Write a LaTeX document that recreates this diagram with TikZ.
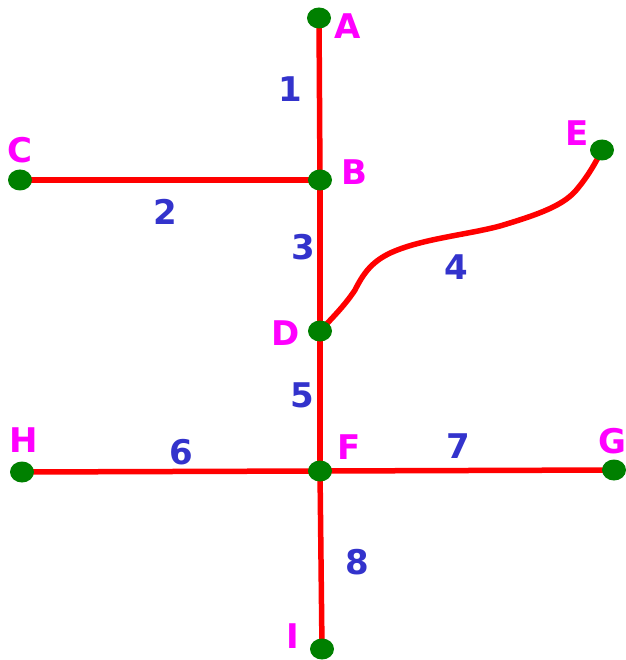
\documentclass[tikz,border=0pt]{standalone}
\usepackage{fontspec}
\setmainfont{DejaVu Sans}
\usetikzlibrary{backgrounds,shapes.geometric}
\definecolor{dotgreen}{RGB}{0,128,0}
\definecolor{lblue}{RGB}{51,51,204}
\definecolor{lmag}{RGB}{255,0,255}
\begin{document}
\begin{tikzpicture}[x=1pt,y=-1pt,
  dot/.style={ellipse, fill=dotgreen, minimum width=24pt, minimum height=21pt, inner sep=0pt},
  vlabel/.style={text=lmag, font=\fontsize{34}{34}\selectfont\bfseries, inner sep=0pt},
  elabel/.style={text=lblue, font=\fontsize{34}{34}\selectfont\bfseries, inner sep=0pt},
  edge/.style={draw=red, line width=5.5pt}]
\useasboundingbox (0,0) rectangle (625,660);
\node[dot] (A) at (319,18) {};
\node[dot] (B) at (320,180) {};
\node[dot] (C) at (20,180) {};
\node[dot] (D) at (320,331) {};
\node[dot] (E) at (602,150) {};
\node[dot] (F) at (320,471) {};
\node[dot] (H) at (22,472) {};
\node[dot] (G) at (614,470) {};
\node[dot] (I) at (322,649) {};
\begin{scope}[on background layer]
\draw[edge] (A.center) -- (B.center);
\draw[edge] (C.center) -- (B.center);
\draw[edge] (B.center) -- (D.center);
\draw[edge] (D.center) .. controls (335,315) and (345,305) .. (355,290)
  .. controls (365,270) and (375,258) .. (400,249)
  .. controls (430,238) and (470,234) .. (500,226)
  .. controls (540,214) and (565,205) .. (578,188)
  .. controls (588,176) and (596,162) .. (E.center);
\draw[edge] (D.center) -- (F.center);
\draw[edge] (H.center) -- (F.center);
\draw[edge] (F.center) -- (G.center);
\draw[edge] (F.center) -- (I.center);
\end{scope}
\node[vlabel] (lA) at (347.5,26.5) {A};
\node[vlabel] (lB) at (354.5,172) {B};
\node[vlabel] (lC) at (20,150) {C};
\node[vlabel] (lD) at (286,333) {D};
\node[vlabel] (lE) at (577,133) {E};
\node[vlabel] (lF) at (349,447) {F};
\node[vlabel] (lG) at (612,441) {G};
\node[vlabel] (lH) at (24,440) {H};
\node[vlabel] (lI) at (292.5,636) {I};
\node[elabel] (n1) at (290.5,89) {1};
\node[elabel] (n2) at (165,212) {2};
\node[elabel] (n3) at (303,247) {3};
\node[elabel] (n4) at (456,267.5) {4};
\node[elabel] (n5) at (302,395) {5};
\node[elabel] (n6) at (181,452) {6};
\node[elabel] (n7) at (458,446) {7};
\node[elabel] (n8) at (357,562) {8};
\end{tikzpicture}
\end{document}
